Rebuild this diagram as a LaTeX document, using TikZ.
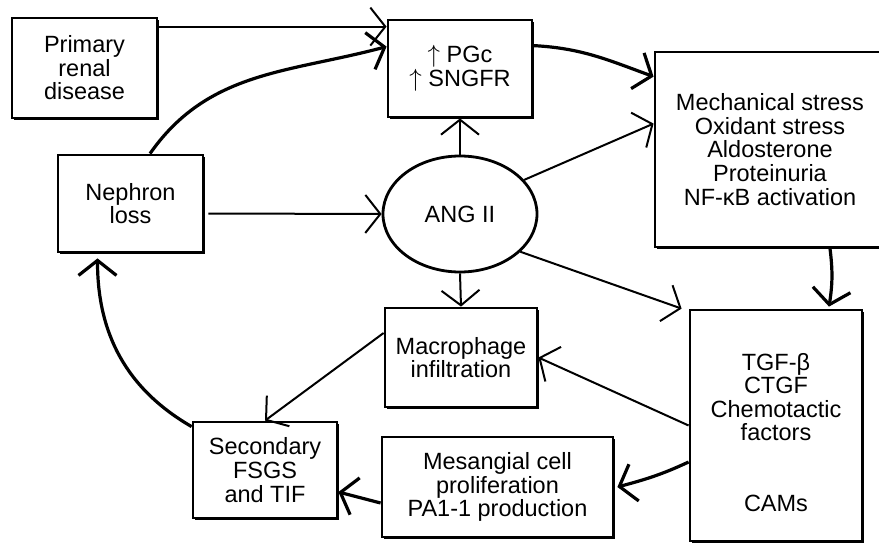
\documentclass[tikz,border=0pt]{standalone}
\usepackage{fontspec}
\setmainfont{Liberation Sans}
\usetikzlibrary{arrows.meta,shadows,shapes.geometric,calc}
\begin{document}
\begin{tikzpicture}[x=1pt,y=1pt,
  every node/.style={font=\fontsize{23.5}{23.6}\selectfont},
  box/.style={draw,line width=2.8pt,fill=white,align=center,inner sep=0pt,
    drop shadow={shadow xshift=1.8pt,shadow yshift=-1.8pt,fill=black,opacity=1}},
  arr/.style={-{Straight Barb[length=15pt,width=38pt]},line width=2pt},
  heavy/.style={arr,line width=3.2pt}]
\clip (0,0) rectangle (879,-543);
\fill[white] (0,0) rectangle (879,-543);
% nodes
\node[box,minimum width=145pt,minimum height=100pt] (prim) at (84.5,-68) {Primary\\renal\\disease};
\node[box,minimum width=144pt,minimum height=97pt] (pgc) at (460,-68.5) {$\uparrow$ PGc\\$\uparrow$ SNGFR};
\node[box,minimum width=230pt,minimum height=195pt] (mech) at (770,-149.5) {Mechanical stress\\Oxidant stress\\Aldosterone\\Proteinuria\\NF-κB activation};
\node[box,minimum width=145pt,minimum height=97pt] (neph) at (130.5,-203.5) {Nephron\\loss};
\node[ellipse,draw,line width=2.8pt,fill=white,minimum width=154pt,minimum height=116pt,inner sep=0pt] (ang) at (460,-214) {ANG II};
\node[box,minimum width=152pt,minimum height=99pt] (mac) at (461,-357.5) {Macrophage\\infiltration};
\node[box,minimum width=172pt,minimum height=231pt] (tgf) at (776,-425.5) {};
\node[align=center,inner sep=0pt] (tgft) at (776,-432.5) {TGF-β\\CTGF\\Chemotactic\\factors\\\mbox{}\\\mbox{}\\CAMs};
\node[box,minimum width=231pt,minimum height=100pt] (mes) at (497.5,-487) {Mesangial cell\\proliferation\\PA1-1 production};
\node[box,minimum width=144pt,minimum height=96pt] (sec) at (265,-470) {Secondary\\FSGS\\and TIF};
% connectors
\draw[arr] ([yshift=-10pt]prim.north east) -- ([yshift=-8pt]pgc.north west);
\draw[heavy] ([xshift=19.5pt]neph.north) to[out=55,in=195] ([yshift=-28pt]pgc.north west);
\draw[arr] ([shift={(4pt,-10pt)}]neph.east) -- (ang.west);
\draw[arr] (ang.north) -- (pgc.south);
\draw[arr] (ang.28) -- ([yshift=-73pt]mech.north west);
\draw[heavy] ([yshift=-27pt]pgc.north east) to[out=-3,in=160] ([yshift=-26pt]mech.north west);
\draw[arr] (ang.-32) -- ([xshift=-7pt]tgf.north west);
\draw[arr] (ang.south) -- (mac.north);
\draw[heavy] ([xshift=60pt]mech.south) to[bend left=8] ([xshift=53pt,yshift=2pt]tgf.north);
\draw[arr] (tgf.west) -- (mac.east);
\draw[heavy] ([yshift=-36.5pt]tgf.west) to[out=205,in=15] ([xshift=3pt]mes.east);
\draw[heavy] ([yshift=-16pt]mes.west) -- ([yshift=-22pt]sec.east);
\draw[arr] ([yshift=24.5pt]mac.west) -- (sec.north);
\draw[heavy] ([yshift=-6pt]sec.north west) to[out=150,in=-90] ([xshift=-33pt,yshift=-5pt]neph.south);
\end{tikzpicture}
\end{document}
